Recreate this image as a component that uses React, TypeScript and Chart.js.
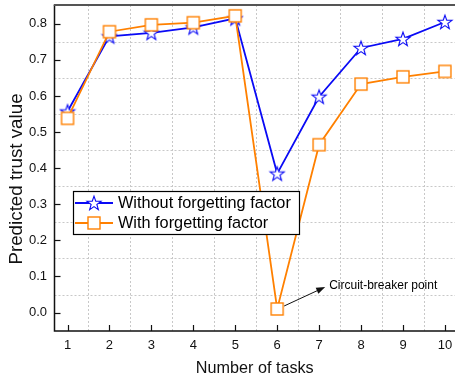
import { useEffect, useRef } from 'react';
import { Chart, registerables } from 'chart.js';

Chart.register(...registerables);

// Task index on the x axis
const taskCounts = [1, 2, 3, 4, 5, 6, 7, 8, 9, 10];
// Predicted trust values per task
const withoutForgetting = [0.557, 0.765, 0.775, 0.79, 0.815, 0.385, 0.598, 0.733, 0.758, 0.805];
const withForgetting = [0.538, 0.778, 0.797, 0.803, 0.822, 0.01, 0.465, 0.633, 0.653, 0.668];
const yTickValues = [0.0, 0.1, 0.2, 0.3, 0.4, 0.5, 0.6, 0.7, 0.8];
const seriesNames = ['Without forgetting factor', 'With forgetting factor'];
const yAxisTitle = 'Predicted trust value';
const xAxisTitle = 'Number of tasks';
const breakerTask = 6;
const breakerLabel = 'Circuit-breaker point';

const FONT = "'Liberation Sans', Arial, sans-serif";
const BLUE = '#0a0af5';
const ORANGE = '#ff8000';

function makeStar(color: string): HTMLCanvasElement {
  const size = 18;
  const c = document.createElement('canvas');
  c.width = size;
  c.height = size;
  const ctx = c.getContext('2d')!;
  const cx = size / 2;
  const cy = size / 2 + 0.6;
  const outer = 7.4;
  const inner = 3.0;
  ctx.beginPath();
  for (let i = 0; i < 10; i++) {
    const r = i % 2 === 0 ? outer : inner;
    const a = -Math.PI / 2 + (i * Math.PI) / 5;
    const x = cx + r * Math.cos(a);
    const y = cy + r * Math.sin(a);
    if (i === 0) ctx.moveTo(x, y);
    else ctx.lineTo(x, y);
  }
  ctx.closePath();
  ctx.fillStyle = '#ffffff';
  ctx.fill();
  ctx.lineWidth = 1.1;
  ctx.strokeStyle = color;
  ctx.stroke();
  return c;
}

function makeSquare(color: string): HTMLCanvasElement {
  const size = 16;
  const c = document.createElement('canvas');
  c.width = size;
  c.height = size;
  const ctx = c.getContext('2d')!;
  ctx.fillStyle = '#ffffff';
  ctx.fillRect(2, 2, 12, 12);
  ctx.lineWidth = 1.4;
  ctx.strokeStyle = color;
  ctx.strokeRect(2, 2, 12, 12);
  return c;
}

export default function App() {
  const canvasRef = useRef<HTMLCanvasElement | null>(null);

  useEffect(() => {
    const canvas = canvasRef.current;
    if (!canvas) return;
    const star = makeStar(BLUE);
    const square = makeSquare(ORANGE);

    const framePlugin = {
      id: 'frameAndGrid',
      beforeDatasetsDraw(chart: any) {
        const { ctx, chartArea: a, scales } = chart;
        const xs = scales.x;
        const ys = scales.y;
        ctx.save();
        ctx.strokeStyle = '#c8c8c8';
        ctx.lineWidth = 1;
        ctx.setLineDash([2, 2]);
        for (const t of taskCounts) {
          const px = Math.round(xs.getPixelForValue(t + 0.5)) + 0.5;
          if (px > a.right) continue;
          ctx.beginPath();
          ctx.moveTo(px, a.top);
          ctx.lineTo(px, a.bottom);
          ctx.stroke();
        }
        for (const v of yTickValues) {
          const py = Math.round(ys.getPixelForValue(v + 0.05)) + 0.5;
          if (py < a.top + 2) continue;
          ctx.beginPath();
          ctx.moveTo(a.left, py);
          ctx.lineTo(a.right, py);
          ctx.stroke();
        }
        ctx.restore();

        // y-axis title
        ctx.save();
        ctx.translate(17, (a.top + a.bottom) / 2 + 11);
        ctx.rotate(-Math.PI / 2);
        ctx.font = `18.8px ${FONT}`;
        ctx.fillStyle = '#111';
        ctx.textAlign = 'center';
        ctx.textBaseline = 'middle';
        ctx.fillText(yAxisTitle, 0, 0);
        ctx.restore();
      },
      afterDatasetsDraw(chart: any) {
        const { ctx, chartArea: a, scales } = chart;
        const xs = scales.x;
        const ys = scales.y;
        ctx.save();
        // axes
        ctx.strokeStyle = '#111';
        ctx.lineWidth = 1.5;
        ctx.beginPath();
        ctx.moveTo(a.left, a.top);
        ctx.lineTo(a.left, a.bottom);
        ctx.lineTo(a.right, a.bottom);
        ctx.stroke();
        ctx.strokeStyle = '#555';
        ctx.lineWidth = 2;
        ctx.beginPath();
        ctx.moveTo(a.left - 0.75, a.top);
        ctx.lineTo(a.right, a.top);
        ctx.stroke();
        // inward ticks
        ctx.strokeStyle = '#111';
        ctx.lineWidth = 1.2;
        for (const t of taskCounts) {
          const px = Math.round(xs.getPixelForValue(t)) + 0.5;
          ctx.beginPath();
          ctx.moveTo(px, a.bottom);
          ctx.lineTo(px, a.bottom - 6);
          ctx.stroke();
        }
        for (const v of yTickValues) {
          const py = Math.round(ys.getPixelForValue(v)) + 0.5;
          ctx.beginPath();
          ctx.moveTo(a.left, py);
          ctx.lineTo(a.left + 6, py);
          ctx.stroke();
        }

        // legend
        const lx = 73;
        const ly = 191;
        const lw = 226;
        const lh = 43;
        ctx.fillStyle = '#ffffff';
        ctx.fillRect(lx, ly, lw, lh);
        ctx.strokeStyle = '#000';
        ctx.lineWidth = 1.2;
        ctx.strokeRect(lx + 0.5, ly + 0.5, lw, lh);
        const rows = [
          { y: ly + 12, color: BLUE, img: star, name: seriesNames[0] },
          { y: ly + 32, color: ORANGE, img: square, name: seriesNames[1] },
        ];
        ctx.font = `16.3px ${FONT}`;
        ctx.textBaseline = 'middle';
        ctx.textAlign = 'left';
        for (const r of rows) {
          ctx.strokeStyle = r.color;
          ctx.lineWidth = 1.8;
          ctx.beginPath();
          ctx.moveTo(lx + 2, r.y);
          ctx.lineTo(lx + 40, r.y);
          ctx.stroke();
          ctx.drawImage(r.img, lx + 21 - r.img.width / 2, r.y - r.img.height / 2);
          ctx.fillStyle = '#000';
          ctx.fillText(r.name, lx + 45, r.y + 1);
        }

        // annotation arrow
        const ax = xs.getPixelForValue(breakerTask);
        const ay = ys.getPixelForValue(withForgetting[breakerTask - 1]);
        const sx = ax + 7;
        const sy = ay - 3;
        const tx = ax + 48;
        const ty = ay - 22;
        const ang = Math.atan2(ty - sy, tx - sx);
        ctx.strokeStyle = '#111';
        ctx.fillStyle = '#111';
        ctx.lineWidth = 1;
        ctx.beginPath();
        ctx.moveTo(sx, sy);
        ctx.lineTo(tx - 6 * Math.cos(ang), ty - 6 * Math.sin(ang));
        ctx.stroke();
        ctx.beginPath();
        ctx.moveTo(tx, ty);
        ctx.lineTo(tx - 9 * Math.cos(ang) + 3.2 * Math.sin(ang), ty - 9 * Math.sin(ang) - 3.2 * Math.cos(ang));
        ctx.lineTo(tx - 9 * Math.cos(ang) - 3.2 * Math.sin(ang), ty - 9 * Math.sin(ang) + 3.2 * Math.cos(ang));
        ctx.closePath();
        ctx.fill();
        ctx.font = `12px ${FONT}`;
        ctx.fillStyle = '#000';
        ctx.textBaseline = 'middle';
        ctx.fillText(breakerLabel, tx + 4, ty - 1);
        ctx.restore();
      },
    };

    const chart = new Chart(canvas, {
      type: 'line',
      data: {
        datasets: [
          {
            label: seriesNames[1],
            data: taskCounts.map((t, i) => ({ x: t, y: withForgetting[i] })),
            borderColor: ORANGE,
            backgroundColor: '#ffffff',
            borderWidth: 1.8,
            tension: 0,
            pointStyle: square as any,
            pointRadius: 8,
            order: 0,
          },
          {
            label: seriesNames[0],
            data: taskCounts.map((t, i) => ({ x: t, y: withoutForgetting[i] })),
            borderColor: BLUE,
            backgroundColor: '#ffffff',
            borderWidth: 1.8,
            tension: 0,
            pointStyle: star as any,
            pointRadius: 8,
            order: 1,
          },
        ],
      },
      options: {
        responsive: false,
        animation: false,
        devicePixelRatio: 1,
        layout: { autoPadding: false, padding: { top: 5, right: 0, left: 0, bottom: 0 } },
        plugins: {
          legend: { display: false },
          tooltip: { enabled: false },
        },
        scales: {
          x: {
            type: 'linear',
            min: 0.69,
            max: 10.24,
            afterBuildTicks: (s: any) => {
              s.ticks = taskCounts.map((v) => ({ value: v }));
            },
            afterFit: (s: any) => {
              s.height = 53;
              s.paddingLeft = 0;
              s.paddingRight = 0;
            },
            grid: { display: false, drawTicks: false },
            border: { display: false },
            ticks: {
              font: { family: FONT, size: 13 },
              color: '#111',
              padding: 7,
              maxRotation: 0,
              callback: (v: any) => String(v),
            },
            title: {
              display: true,
              text: xAxisTitle,
              font: { family: FONT, size: 16.2 },
              color: '#111',
              padding: { top: 0, bottom: 6 },
            },
          },
          y: {
            type: 'linear',
            min: -0.051,
            max: 0.852,
            afterBuildTicks: (s: any) => {
              s.ticks = yTickValues.map((v) => ({ value: v }));
            },
            afterFit: (s: any) => {
              s.width = 54.5;
              s.paddingTop = 0;
              s.paddingBottom = 0;
            },
            grid: { display: false, drawTicks: false },
            border: { display: false },
            ticks: {
              font: { family: FONT, size: 13 },
              color: '#111',
              padding: 7.5,
              callback: (v: any) => Number(v).toFixed(1),
            },
            title: { display: false },
          },
        },
      },
      plugins: [framePlugin],
    });

    return () => chart.destroy();
  }, []);

  return (
    <div style={{ position: 'fixed', left: 0, top: 0, width: 455, height: 384, background: '#fff' }}>
      <canvas ref={canvasRef} width={455} height={384} style={{ display: 'block' }} />
    </div>
  );
}
